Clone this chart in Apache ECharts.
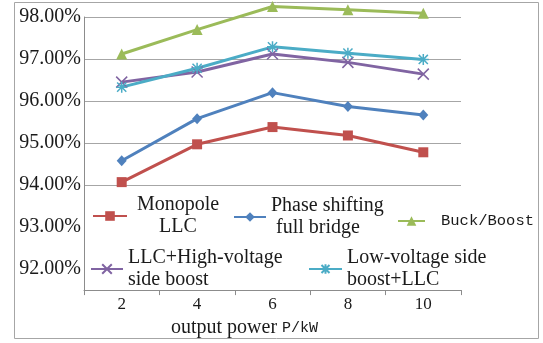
<!DOCTYPE html>
<html>
<head>
<meta charset="utf-8">
<script src="https://cdn.jsdelivr.net/npm/echarts@6/dist/echarts.min.js"></script>
<style>
  html, body { margin: 0; padding: 0; background: #fff; }
  #chart { width: 543px; height: 343px; }
</style>
</head>
<body>
<div id="chart"></div>
<script>
// output power, kW
const categories = ["2", "4", "6", "8", "10"];
// efficiency, %
const monopoleLLC = [94.07, 94.97, 95.38, 95.18, 94.78];
const phaseShifting = [94.58, 95.58, 96.2, 95.87, 95.67];
const buckBoost = [97.12, 97.7, 98.25, 98.17, 98.09];
const llcHighBoost = [96.45, 96.69, 97.12, 96.92, 96.64];
const lowBoostLLC = [96.33, 96.78, 97.29, 97.14, 96.99];

const serif = "Liberation Serif";
const mono = "Liberation Mono";
const textColor = "#1a1a1a";
const gridColor = "#a6a6a6";

// only whole percents get a grid line, and 92/93 sit under the legend
const splitColors = [
  "none", "none", "none", "none", "none", gridColor, "none",
  gridColor, "none", gridColor, "none", gridColor, "none", gridColor,
];

const crossPath = "path://M0,0L10,10M10,0L0,10";
const starPath = "path://M0,0L10,10M10,0L0,10M5,-1L5,11M-1,5L11,5";

function mkLegend(name, left, top, iconW, text, extra) {
  return Object.assign({
    data: [name],
    left: left,
    top: top,
    orient: "horizontal",
    padding: 0,
    itemWidth: iconW,
    itemHeight: 12,
    selectedMode: false,
    formatter: () => text,
    textStyle: { fontFamily: serif, fontSize: 20, color: textColor, lineHeight: 22 },
  }, extra || {});
}

const chart = echarts.init(document.getElementById("chart"));
chart.setOption({
  animation: false,
  backgroundColor: "#fff",
  graphic: [{
    type: "rect",
    shape: { x: 14.5, y: 2.5, width: 524, height: 336 },
    style: { fill: "none", stroke: "#a6a6a6", lineWidth: 1 },
    z: -10,
  }],
  grid: { left: 84, right: 82, top: 17, bottom: 48 },
  xAxis: {
    type: "category",
    data: categories,
    boundaryGap: true,
    axisLine: { lineStyle: { color: "#8c8c8c", width: 1 } },
    axisTick: { show: true, length: 5, lineStyle: { color: "#8c8c8c" } },
    axisLabel: { fontFamily: serif, fontSize: 17, color: textColor, margin: 6 },
    name: "{a|output power}{b|P/kW}",
    nameLocation: "middle",
    nameGap: 17,
    nameTextStyle: {
      padding: [0, 56, 0, 0],
      rich: {
        a: { fontFamily: serif, fontSize: 20, color: textColor },
        b: { fontFamily: mono, fontSize: 15, color: textColor, padding: [0, 0, 0, 5] },
      },
    },
  },
  yAxis: {
    type: "value",
    min: 91.5,
    max: 98,
    interval: 0.5,
    axisLine: { show: true, lineStyle: { color: "#8c8c8c", width: 1 } },
    axisTick: { show: false },
    axisLabel: {
      fontFamily: serif,
      fontSize: 20,
      color: textColor,
      margin: 3,
      formatter: (v) => (Math.abs(v - Math.round(v)) < 1e-6 && v > 91.9 ? v.toFixed(2) + "%" : ""),
    },
    splitLine: { show: true, lineStyle: { color: splitColors, width: 1 } },
  },
  legend: [
    mkLegend("Monopole LLC", 92, 194, 34, "{c|Monopole}\n{c|LLC}", {
      textStyle: {
        fontFamily: serif, fontSize: 20, color: textColor, lineHeight: 22,
        rich: { c: { width: 92, align: "center", fontFamily: serif, fontSize: 20, color: textColor, lineHeight: 22 } },
      },
    }),
    mkLegend("Phase shifting full bridge", 233, 195, 32, "Phase shifting\n full bridge"),
    mkLegend("Buck/Boost", 397, 213, 27, "Buck/Boost", {
      textStyle: { fontFamily: mono, fontSize: 15.5, color: textColor, padding: [0, 0, 0, 11] },
    }),
    mkLegend("LLC+High-voltage side boost", 90, 247, 32, "LLC+High-voltage\nside boost"),
    mkLegend("Low-voltage side boost+LLC", 308, 247, 33, "Low-voltage side\nboost+LLC"),
  ],
  series: [
    {
      name: "Monopole LLC",
      type: "line",
      data: monopoleLLC,
      clip: false,
      symbol: "rect",
      symbolSize: 10,
      itemStyle: { color: "#c0504d" },
      lineStyle: { width: 3, color: "#c0504d" },
    },
    {
      name: "Phase shifting full bridge",
      type: "line",
      data: phaseShifting,
      clip: false,
      symbol: "diamond",
      symbolSize: [10, 11],
      itemStyle: { color: "#4f81bd" },
      lineStyle: { width: 3, color: "#4f81bd" },
    },
    {
      name: "Buck/Boost",
      type: "line",
      data: buckBoost,
      clip: false,
      symbol: "triangle",
      symbolSize: 11,
      itemStyle: { color: "#9bbb59" },
      lineStyle: { width: 3, color: "#9bbb59" },
    },
    {
      name: "LLC+High-voltage side boost",
      type: "line",
      data: llcHighBoost,
      clip: false,
      symbol: crossPath,
      symbolSize: 11,
      itemStyle: { color: "none", borderColor: "#8064a2", borderWidth: 1.5 },
      lineStyle: { width: 3, color: "#8064a2" },
    },
    {
      name: "Low-voltage side boost+LLC",
      type: "line",
      data: lowBoostLLC,
      clip: false,
      symbol: starPath,
      symbolSize: 11,
      itemStyle: { color: "none", borderColor: "#4bacc6", borderWidth: 1.5 },
      lineStyle: { width: 3, color: "#4bacc6" },
    },
  ],
});
</script>
</body>
</html>
